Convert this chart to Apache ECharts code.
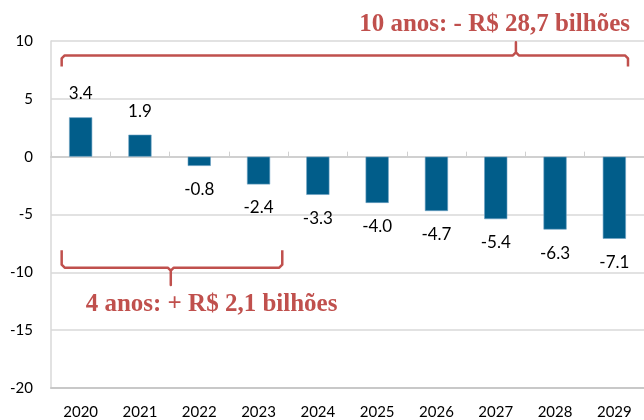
<!DOCTYPE html>
<html>
<head>
<meta charset="utf-8">
<script src="https://cdn.jsdelivr.net/npm/echarts@6/dist/echarts.min.js"></script>
<style>
html,body{margin:0;padding:0;background:#fff;}
#c{width:644px;height:420px;}
</style>
</head>
<body>
<div id="c"></div>
<script>
const categories = ['2020','2021','2022','2023','2024','2025','2026','2027','2028','2029'];
const values = [3.4, 1.9, -0.8, -2.4, -3.3, -4.0, -4.7, -5.4, -6.3, -7.1];
const yMin = -20, yMax = 10, yStep = 5;
const noteTotal = '10 anos: - R$ 28,7 bilhões';
const noteFirst = '4 anos: + R$ 2,1 bilhões';

const BAR = '#015d8a';
const RED = '#c0504d';
const FONT = 'Lato';

const chart = echarts.init(document.getElementById('c'), null, {renderer: 'canvas'});

const option = {
  animation: false,
  backgroundColor: '#fff',
  grid: {left: 51, top: 41, bottom: 29, right: -2, containLabel: false},
  xAxis: [
    {
      type: 'category', data: categories, position: 'bottom',
      axisLine: {onZero: true, lineStyle: {color: '#d0d0d0', width: 2}},
      axisTick: {show: true, inside: true, length: 5, lineStyle: {color: '#d0d0d0'}},
      axisLabel: {show: false},
      splitLine: {show: false}
    },
    {
      type: 'category', data: categories, position: 'bottom', gridIndex: 0,
      axisLine: {onZero: false, show: true, lineStyle: {color: '#c8c8c8', width: 2}},
      axisTick: {show: false},
      axisLabel: {show: true, fontFamily: FONT, fontSize: 15, color: '#000', margin: 17},
      splitLine: {show: false}
    }
  ],
  yAxis: {
    type: 'value', min: yMin, max: yMax, interval: yStep,
    axisLine: {show: true, lineStyle: {color: '#d9d9d9', width: 1.5}},
    axisTick: {show: false},
    axisLabel: {fontFamily: FONT, fontSize: 15, color: '#000', margin: 18},
    splitLine: {lineStyle: {color: '#d9d9d9', width: 1.5}}
  },
  series: [{
    type: 'bar', xAxisIndex: 0, barWidth: '39%',
    itemStyle: {color: BAR, borderColor: '#6fa3c4', borderWidth: 0.6},
    data: values.map(v => ({
      value: v,
      label: {
        show: true, position: v >= 0 ? 'top' : 'bottom', distance: 15,
        formatter: p => p.value.toFixed(1),
        fontFamily: FONT, fontSize: 17, color: '#000'
      }
    }))
  }]
};
chart.setOption(option);

const px = i => chart.convertToPixel({xAxisIndex: 0}, i);
const py = v => chart.convertToPixel({yAxisIndex: 0}, v);
const band = px(1) - px(0);

function brace(x1, x2, xm, yH, yEnd, yTip) {
  const dEnd = yEnd > yH ? 1 : -1;
  const dTip = yTip > yH ? 1 : -1;
  const r = 3;
  return [
    [x1, yEnd],
    [x1, yH + dEnd * r],
    [x1 + r, yH],
    [xm - r, yH],
    [xm, yH + dTip * r],
    [xm, yTip],
    [xm, yH + dTip * r],
    [xm + r, yH],
    [x2 - r, yH],
    [x2, yH + dEnd * r],
    [x2, yEnd]
  ];
}

const tX1 = px(0) - 0.32 * band, tX2 = px(9) + 0.23 * band, tXm = px(7) + 0.34 * band;
const tYH = py(8.75), tYEnd = py(7.8), tYTip = py(9.9);
const bX1 = px(0) - 0.32 * band, bX2 = px(3) + 0.4 * band, bXm = px(1) + 0.52 * band;
const bYH = py(-9.6), bYEnd = py(-8.1), bYTip = py(-11.1);

chart.setOption({
  graphic: [
    {type: 'polyline', shape: {points: brace(tX1, tX2, tXm, tYH, tYEnd, tYTip)},
     style: {stroke: RED, lineWidth: 2.5, fill: null, lineJoin: 'round'}},
    {type: 'polyline', shape: {points: brace(bX1, bX2, bXm, bYH, bYEnd, bYTip)},
     style: {stroke: RED, lineWidth: 2.5, fill: null, lineJoin: 'round'}},
    {type: 'text', x: tX2 + 2, y: 25,
     style: {text: noteTotal, font: 'bold 25px "Liberation Serif"', fill: RED,
             align: 'right', verticalAlign: 'middle', textAlign: 'right', textVerticalAlign: 'middle'}},
    {type: 'text', x: px(0) + 5, y: py(-12.8),
     style: {text: noteFirst, font: 'bold 25px "Liberation Serif"', fill: RED,
             align: 'left', verticalAlign: 'middle', textAlign: 'left', textVerticalAlign: 'middle'}}
  ]
});
</script>
</body>
</html>
